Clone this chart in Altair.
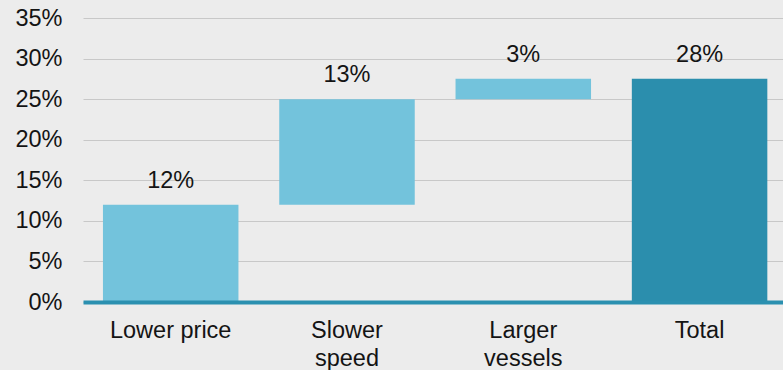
import altair as alt
import pandas as pd

categories = ["Lower price", "Slower speed", "Larger vessels", "Total"]
bar_start = [0, 12, 25, 0]
bar_end = [12, 25, 27.5, 27.5]
value_labels = ["12%", "13%", "3%", "28%"]
kinds = ["step", "step", "step", "total"]
y_ticks = [0, 5, 10, 15, 20, 25, 30, 35]

df = pd.DataFrame({
    "cat": categories,
    "start": bar_start,
    "end": bar_end,
    "label": value_labels,
    "kind": kinds,
})

FONT = "Liberation Sans"
FS = 23.5
TXT = "#141414"

x_enc = alt.X(
    "cat:N",
    sort=categories,
    scale=alt.Scale(paddingInner=0.2314, paddingOuter=0.101, align=0.56),
    axis=alt.Axis(
        title=None,
        labelAngle=0,
        ticks=False,
        domain=True,
        domainColor="#2b90b0",
        domainWidth=4,
        labelFont=FONT,
        labelFontSize=FS,
        labelColor=TXT,
        labelPadding=16,
        labelLineHeight=28,
        labelBaseline="top",
        zindex=2,
        labelExpr="datum.label == 'Slower speed' ? ['Slower','speed'] : datum.label == 'Larger vessels' ? ['Larger','vessels'] : datum.label",
    ),
)

y_scale = alt.Scale(domain=[0, 35], nice=False, zero=True)

bars = alt.Chart(df).mark_bar(cornerRadius=0).encode(
    x=x_enc,
    y=alt.Y(
        "start:Q",
        scale=y_scale,
        axis=alt.Axis(
            title=None,
            values=y_ticks,
            labelExpr="datum.value + '%'",
            domain=False,
            ticks=False,
            grid=True,
            gridColor="#c8c8c8",
            gridWidth=1.2,
            labelFont=FONT,
            labelFontSize=FS,
            labelColor=TXT,
            labelPadding=21,
        ),
    ),
    y2="end:Q",
    color=alt.Color(
        "kind:N",
        scale=alt.Scale(domain=["step", "total"], range=["#73c3dc", "#2b8ead"]),
        legend=None,
    ),
)

texts = alt.Chart(df).mark_text(
    font=FONT, fontSize=FS, color=TXT, baseline="alphabetic", dy=-17
).encode(
    x=alt.X("cat:N", sort=categories),
    y=alt.Y("end:Q", scale=y_scale),
    text="label:N",
)

chart = alt.layer(bars, texts).properties(
    width=700,
    height=284,
    background="#ececec",
    padding={"left": 83, "top": 18, "right": 0, "bottom": 68},
    autosize=alt.AutoSizeParams(type="none"),
).configure_view(stroke=None)

chart.save("out.html", embed_options={"renderer": "svg", "actions": False})
